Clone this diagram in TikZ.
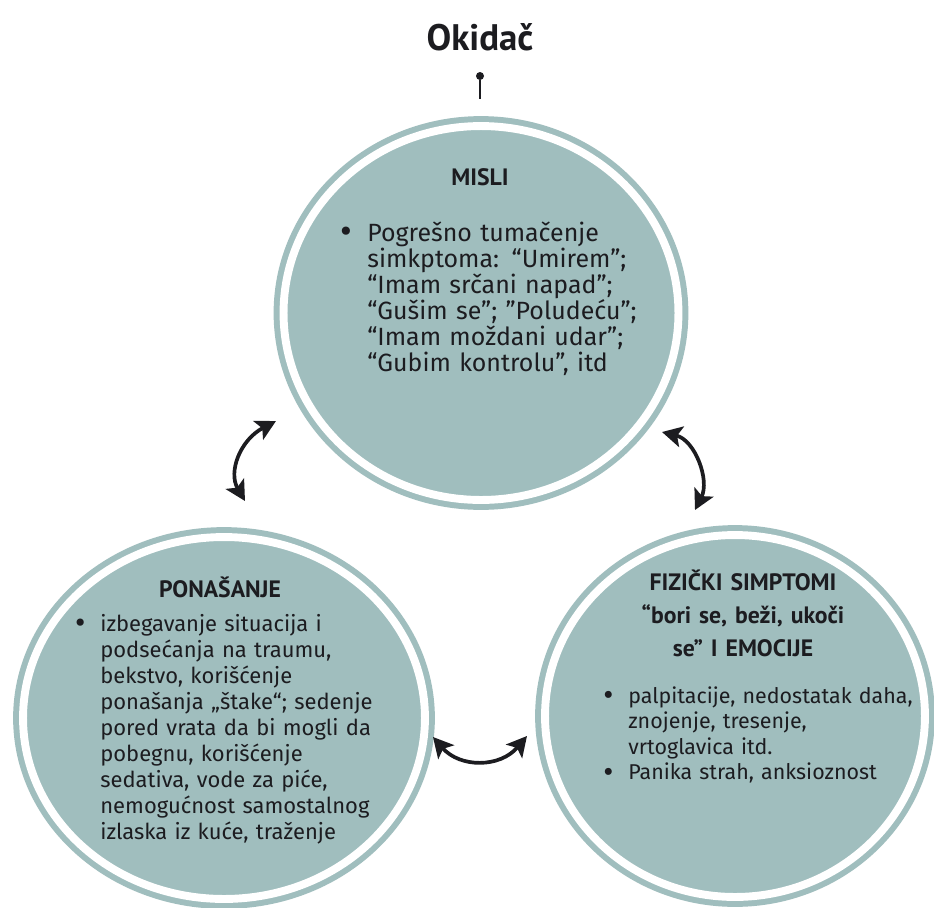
\documentclass[tikz,border=0pt]{standalone}
\usepackage{fontspec}
\setmainfont{Fira Sans}
\newfontfamily\headfont{PT Sans}
\usetikzlibrary{shapes.geometric,arrows.meta}

\definecolor{sage}{RGB}{160,190,190}
\definecolor{ink}{RGB}{28,28,32}

% hanging bullet in front of a list line
\newcommand{\bul}{\leavevmode\llap{\raisebox{-0.22ex}{\scalebox{1.45}{\textbullet}}\hspace{0.3cm}}}

\tikzset{
    disk/.style={ellipse, inner sep=0pt, fill=sage, draw=sage,
        line width=3.4pt, double=white, double distance=4.5pt},
    title/.style={font=\headfont\bfseries\fontsize{21}{26}\selectfont, text=ink, inner sep=0pt, anchor=base},
    head/.style={font=\headfont\bfseries\fontsize{13.5}{18.8}\selectfont, text=ink,
        inner sep=0pt, anchor=base, align=center, text width=6cm},
    body/.style={font=\fontsize{12.5}{14.8}\selectfont, text=ink,
        inner sep=0pt, anchor=base west, align=left, text width=6.5cm},
    pindot/.style={circle, fill=ink, inner sep=0pt, minimum size=0.16cm},
    linkarrow/.style={{Stealth[length=4mm,width=4.2mm,inset=0.9mm]}-{Stealth[length=4mm,width=4.2mm,inset=0.9mm]},
        line width=2.1pt, ink}
}

\begin{document}
\begin{tikzpicture}[x=0.02cm,y=-0.02cm]
    \useasboundingbox (0,0) rectangle (934,907);
    \fill[white] (0,0) rectangle (934,907);

    % Trigger and its pin
    \node[title] (okidac) at (480,50) {Okidač};
    \node[pindot] (pin) at (480,76) {};
    \coordinate (pin-end) at (480,99);
    \draw[ink, line width=1.1pt] (pin) -- (pin-end);

    % The three circles
    \foreach \name/\x/\y/\w/\h in {misli/481/313/7.9/7.48,
                                   ponasanje/224/718/8.04/7.24,
                                   fizicki/735/716/7.6/7.24}
        \node[disk, minimum width=\w cm, minimum height=\h cm] (\name) at (\x,\y) {};

    % Headings
    \node[head] (misli-head) at (480,185) {MISLI};
    \node[head] (ponasanje-head) at (220,597) {PONAŠANJE};
    \node[head] (fizicki-head) at (743,590) {FIZIČKI SIMPTOMI\\
        “bori se, beži, ukoči\\
        se” I EMOCIJE};

    % Lists
    \node[body, font=\fontsize{14.2}{14.9}\selectfont] (misli-list) at (367,241) {\bul Pogrešno tumačenje\\
        simkptoma: “Umirem”;\\
        “Imam srčani napad”;\\
        “Gušim se”; ”Poludeću”;\\
        “Imam moždani udar”;\\
        “Gubim kontrolu”, itd};
    \node[body] (ponasanje-list) at (100,631) {\bul izbegavanje situacija i\\
        podsećanja na traumu,\\
        bekstvo, korišćenje\\
        ponašanja „štake“; sedenje\\
        pored vrata da bi mogli da\\
        pobegnu, korišćenje\\
        sedativa, vode za piće,\\
        nemogućnost samostalnog\\
        izlaska iz kuće, traženje};
    \node[body, font=\fontsize{12.2}{14.6}\selectfont] (fizicki-list) at (628,703) {\bul palpitacije, nedostatak daha,\\
        znojenje, tresenje,\\
        vrtoglavica itd.\\
        \bul Panika strah, anksioznost};

    % Arrows between the circles
    \coordinate (misli-l) at (276,421);
    \coordinate (ponasanje-t) at (245,501);
    \coordinate (misli-r) at (662,432);
    \coordinate (fizicki-t) at (695,510);
    \coordinate (ponasanje-r) at (433,737);
    \coordinate (fizicki-l) at (527,736);
    \draw[linkarrow] (ponasanje-t) .. controls (228,472) and (240,440) .. (misli-l);
    \draw[linkarrow] (misli-r) .. controls (695,440) and (710,480) .. (fizicki-t);
    \draw[linkarrow] (ponasanje-r) .. controls (460,768) and (500,768) .. (fizicki-l);
\end{tikzpicture}
\end{document}
